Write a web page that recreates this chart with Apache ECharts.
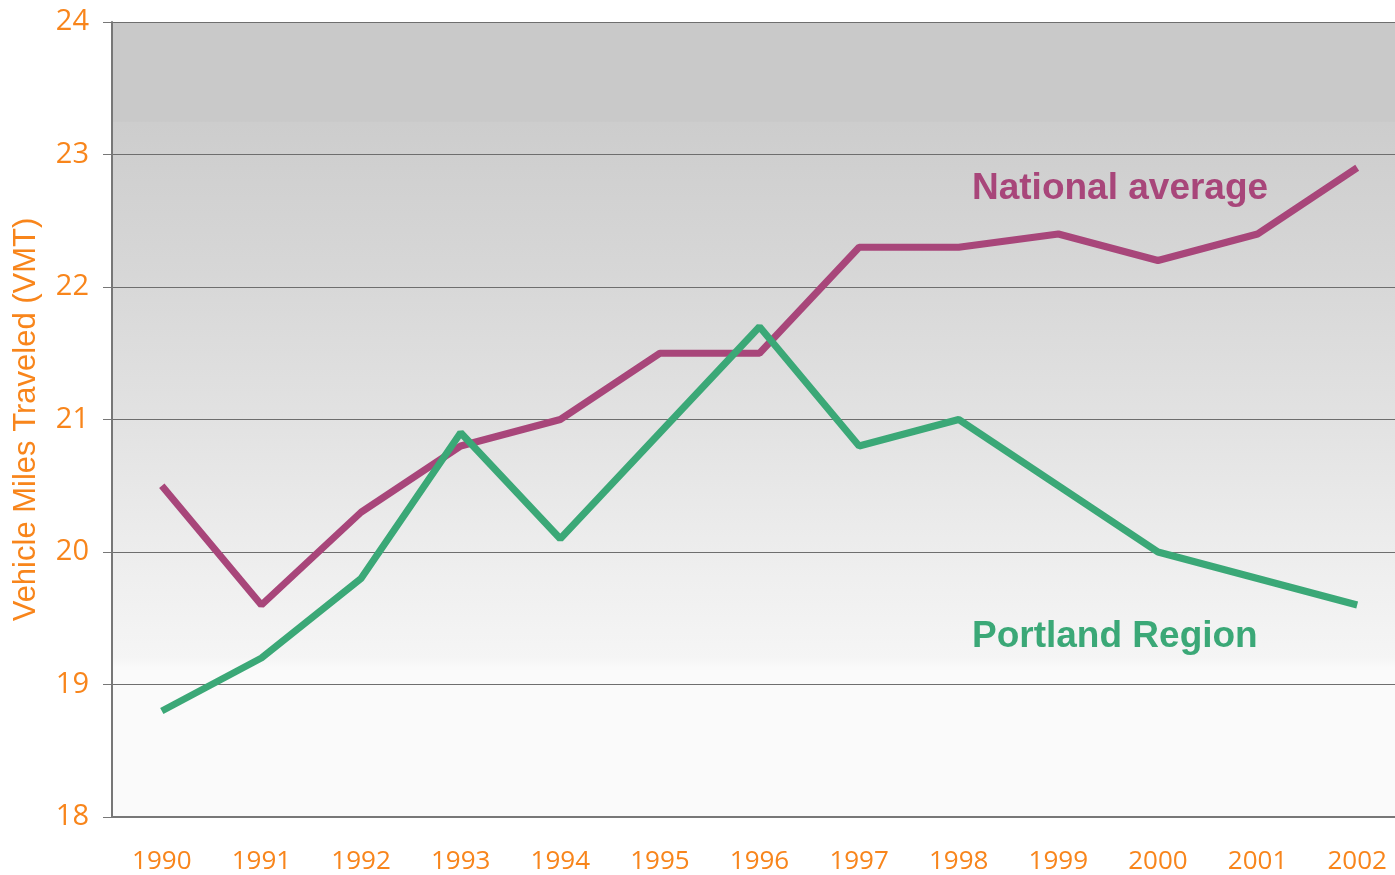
<!DOCTYPE html>
<html>
<head>
<meta charset="utf-8">
<script src="https://cdn.jsdelivr.net/npm/echarts@6/dist/echarts.min.js"></script>
<style>
  html, body { margin: 0; padding: 0; background: #fff; }
</style>
</head>
<body>
<div id="myCharts" style="width: 1395px; height: 875px;"></div>
<script>
  // data
  var years = ['1990', '1991', '1992', '1993', '1994', '1995', '1996', '1997', '1998', '1999', '2000', '2001', '2002'];
  var nationalAverage = [20.5, 19.6, 20.3, 20.8, 21.0, 21.5, 21.5, 22.3, 22.3, 22.4, 22.2, 22.4, 22.9];
  var portlandRegion = [18.8, 19.2, 19.8, 20.9, 20.1, 20.9, 21.7, 20.8, 21.0, 20.5, 20.0, 19.8, 19.6];

  var orange = '#f8851b';
  var purple = '#a8467a';
  var green = '#3ba877';

  var myCharts = echarts.init(document.getElementById('myCharts'));
  var options = {
    animation: false,
    grid: {
      left: 112,
      top: 22,
      bottom: 58,
      width: 1295,
      outerBoundsMode: 'none',
      containLabel: false,
      show: true,
      borderWidth: 0,
      backgroundColor: new echarts.graphic.LinearGradient(0, 0, 0, 1, [
        { offset: 0, color: '#c9c9c9' },
        { offset: 0.125, color: '#c9c9c9' },
        { offset: 0.126, color: '#cdcdcd' },
        { offset: 0.3, color: '#d6d6d6' },
        { offset: 0.5, color: '#e2e2e2' },
        { offset: 0.65, color: '#ececec' },
        { offset: 0.8, color: '#f5f5f5' },
        { offset: 0.812, color: '#fafafa' },
        { offset: 1, color: '#fafafa' }
      ])
    },
    xAxis: [{
      type: 'category',
      boundaryGap: true,
      data: years,
      axisLine: { show: true, lineStyle: { color: '#777', width: 2 } },
      axisTick: { show: false },
      axisLabel: {
        color: orange,
        fontSize: 26,
        fontFamily: 'Open Sans',
        margin: 32
      }
    }],
    yAxis: [{
      type: 'value',
      min: 18,
      max: 24,
      interval: 1,
      name: 'Vehicle Miles Traveled (VMT)',
      nameLocation: 'middle',
      nameGap: 70,
      nameTextStyle: {
        color: orange,
        fontSize: 31,
        fontFamily: 'Liberation Sans'
      },
      axisLine: { show: true, lineStyle: { color: '#777', width: 2 } },
      axisTick: { show: true, length: 9, lineStyle: { color: '#777', width: 1 } },
      axisLabel: {
        color: orange,
        fontSize: 29,
        fontFamily: 'Open Sans',
        margin: 23
      },
      splitLine: { show: true, lineStyle: { color: '#6e6e6e', width: 1 } }
    }],
    graphic: [
      {
        type: 'text',
        left: 972,
        top: 170,
        style: {
          text: 'National average',
          fill: purple,
          font: 'bold 37px "Liberation Sans", Arial, sans-serif'
        }
      },
      {
        type: 'text',
        left: 972,
        top: 618,
        style: {
          text: 'Portland Region',
          fill: green,
          font: 'bold 37px "Liberation Sans", Arial, sans-serif'
        }
      }
    ],
    series: [
      {
        name: 'National average',
        type: 'line',
        data: nationalAverage,
        symbol: 'none',
        lineStyle: { color: purple, width: 7 },
        z: 3
      },
      {
        name: 'Portland Region',
        type: 'line',
        data: portlandRegion,
        symbol: 'none',
        lineStyle: { color: green, width: 7 },
        z: 4
      }
    ]
  };
  myCharts.setOption(options);
</script>
</body>
</html>
